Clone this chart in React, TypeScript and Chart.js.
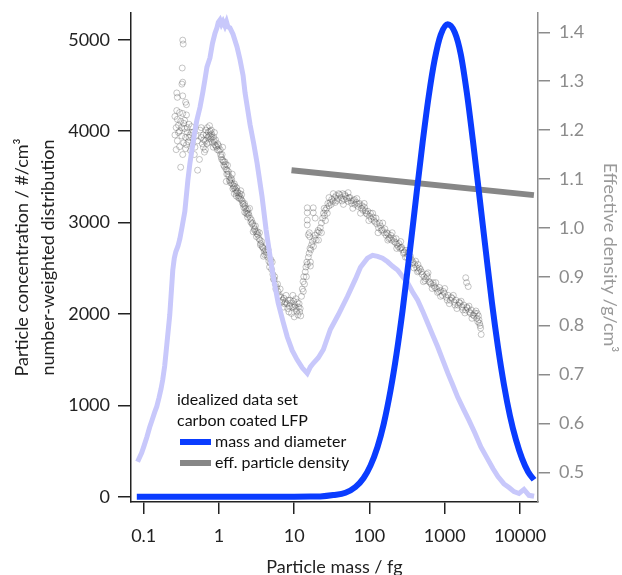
import { useEffect, useRef } from 'react';
import { Chart, registerables } from 'chart.js';

Chart.register(...registerables);

const FONT = 'Lato, "Open Sans", sans-serif';

// ---- axes ----
const xTickValues = [0.1, 1, 10, 100, 1000, 10000];
const xTickLabels = ['0.1', '1', '10', '100', '1000', '10000'];
const leftTickValues = [0, 1000, 2000, 3000, 4000, 5000];
const leftTickLabels = ['0', '1000', '2000', '3000', '4000', '5000'];
const rightTickValues = [0.5, 0.6, 0.7, 0.8, 0.9, 1.0, 1.1, 1.2, 1.3, 1.4];
const rightTickLabels = ['0.5', '0.6', '0.7', '0.8', '0.9', '1.0', '1.1', '1.2', '1.3', '1.4'];

const xTitle = 'Particle mass / fg';
const leftTitleLines = ['Particle concentration / #/cm³', 'number-weighted distribution'];
const rightTitle = 'Effective density /g/cm³';

const legendHeader = ['idealized data set', 'carbon coated LFP'];
const legendLabels = ['mass and diameter', 'eff. particle density'];

// ---- number-weighted distribution (light lavender) ----
const numberMass = [0.083, 0.088, 0.094, 0.1, 0.11, 0.12, 0.13, 0.14, 0.149, 0.16, 0.17, 0.179, 0.19, 0.2026, 0.222, 0.2435, 0.255, 0.267, 0.285, 0.302, 0.325, 0.352, 0.386, 0.41, 0.4365, 0.47, 0.509, 0.56, 0.612, 0.65, 0.692, 0.759, 0.82, 0.885, 0.94, 0.98, 1.031, 1.08, 1.13, 1.2, 1.26, 1.318, 1.4, 1.537, 1.738, 1.905, 2.09, 2.22, 2.59, 2.9, 3.21, 3.74, 4.23, 4.79, 5.41, 6.12, 7.13, 8.07, 9.4, 10.9, 12.8, 14.9, 16.4, 17.9, 20.9, 24.4, 30.2, 38.5, 50.9, 65, 75.9, 94, 110, 128, 149, 174, 203, 236, 275, 321, 374, 437, 509, 593, 691, 805, 937, 1096, 1275, 1486, 1792, 2085, 2505, 3020, 3640, 4385, 5093, 6130, 7140, 8318, 9690, 11290, 13160, 15380];
const numberConc = [383, 430, 480, 545, 650, 760, 845, 925, 985, 1085, 1180, 1280, 1430, 1660, 1990, 2480, 2610, 2680, 2740, 2820, 2960, 3120, 3460, 3640, 3790, 3960, 4120, 4260, 4430, 4560, 4700, 4800, 4960, 5070, 5130, 5190, 5215, 5170, 5200, 5150, 5195, 5140, 5130, 5060, 4920, 4780, 4610, 4420, 4070, 3860, 3650, 3280, 2920, 2620, 2350, 2120, 1910, 1750, 1600, 1500, 1410, 1350, 1420, 1460, 1520, 1610, 1830, 1990, 2190, 2380, 2510, 2610, 2640, 2630, 2610, 2570, 2520, 2480, 2410, 2340, 2240, 2150, 2030, 1900, 1770, 1640, 1500, 1355, 1225, 1090, 950, 840, 700, 545, 425, 305, 220, 140, 100, 55, 35, 80, 15, 5];

// ---- mass and diameter (blue) ----
const idealMass = [0.081, 1, 10, 16.35, 22.2, 33.1, 47.9, 65.1, 83.2, 103.1, 127.8, 153.7, 190.5, 229.1, 275.4, 341.5, 423.4, 509, 611.9, 735.6, 884.5, 1096, 1359, 1634, 1965, 2363, 2840, 3522, 4234, 5090, 6119, 7356, 8845, 10630, 12790, 15370];
const idealConc = [0, 0, 0, 1, 3, 18, 43, 106, 202, 340, 544, 787, 1164, 1566, 2040, 2664, 3326, 3881, 4380, 4784, 5055, 5170, 5080, 4840, 4420, 3900, 3340, 2680, 2125, 1640, 1225, 885, 621, 419, 273, 185];

// ---- eff. particle density (grey line, right axis) ----
const densityLineMass = [9.2, 15300];
const densityLineValue = [1.118, 1.067];

// ---- measured effective density (open circles, right axis) [mass fg, density g/cm3] ----
const measuredDensity: [number, number][] = [
  [0.33, 1.384], [0.335, 1.376], [0.325, 1.327], [0.33, 1.298], [0.322, 1.294],
  [0.275, 1.276], [0.28, 1.267], [0.33, 1.27], [0.36, 1.257], [0.37, 1.252],
  [0.275, 1.24], [0.3, 1.236], [0.33, 1.234], [0.37, 1.231], [0.26, 1.228],
  [0.28, 1.222], [0.31, 1.218], [0.34, 1.214], [0.29, 1.21], [0.4, 1.212],
  [0.27, 1.205], [0.35, 1.203], [0.43, 1.207], [0.3, 1.198], [0.38, 1.196],
  [0.26, 1.19], [0.32, 1.188], [0.36, 1.185], [0.41, 1.19], [0.45, 1.182],
  [0.28, 1.178], [0.34, 1.174], [0.39, 1.176], [0.44, 1.17], [0.3, 1.166],
  [0.36, 1.162], [0.48, 1.165], [0.27, 1.16], [0.42, 1.158], [0.31, 1.124],
  [0.33, 1.15], [0.38, 1.205], [0.46, 1.196], [0.5, 1.188], [0.52, 1.178],
  [0.47, 1.15], [0.52, 1.118], [0.55, 1.14], [0.29, 1.195], [0.35, 1.22],
  [0.32, 1.205], [0.4, 1.185], [0.37, 1.17], [0.43, 1.195],
  [0.56, 1.2], [0.58, 1.185], [0.6, 1.172], [0.62, 1.165], [0.64, 1.155], [0.66, 1.178], [0.68, 1.19],
  [0.7, 1.205], [0.72, 1.196], [0.74, 1.188], [0.76, 1.198], [0.78, 1.182], [0.8, 1.192], [0.82, 1.175],
  [0.85, 1.186], [0.88, 1.17], [0.9, 1.18], [0.93, 1.165], [0.96, 1.172], [1.0, 1.158], [0.69, 1.172],
  [0.75, 1.209], [0.87, 1.195], [0.62, 1.19], [0.66, 1.16], [0.71, 1.185], [0.79, 1.2], [0.84, 1.165],
  [1.04, 1.16], [1.07, 1.145], [1.1, 1.15], [1.13, 1.138], [1.16, 1.128], [1.2, 1.135], [1.24, 1.12],
  [1.28, 1.118], [1.32, 1.11], [1.36, 1.105], [1.4, 1.098], [1.45, 1.102], [1.5, 1.09], [1.55, 1.086],
  [1.6, 1.09], [1.66, 1.078], [1.72, 1.082], [1.78, 1.072], [1.84, 1.066], [1.9, 1.07], [1.97, 1.058],
  [2.04, 1.055], [2.1, 1.048], [2.18, 1.05], [2.26, 1.04], [2.34, 1.035], [2.42, 1.038], [2.5, 1.026],
  [2.6, 1.02], [2.7, 1.016], [2.8, 1.01], [2.9, 1.004], [3.0, 0.998], [3.1, 0.992], [3.2, 0.988],
  [1.12, 1.165], [1.3, 1.128], [1.5, 1.11], [1.7, 1.065], [1.95, 1.076], [2.2, 1.032], [2.55, 1.04],
  [2.85, 0.992], [1.25, 1.095], [1.6, 1.07], [2.0, 1.068], [2.4, 1.022],
  [3.3, 0.985], [3.4, 0.978], [3.5, 0.975], [3.6, 0.968], [3.7, 0.972], [3.8, 0.96], [3.9, 0.958],
  [4.0, 0.952], [4.15, 0.955], [4.3, 0.945], [4.45, 0.94], [4.6, 0.932], [4.8, 0.928], [5.0, 0.915],
  [5.2, 0.905], [5.4, 0.895], [5.6, 0.885], [5.85, 0.878], [6.1, 0.87], [6.4, 0.862], [6.7, 0.858],
  [7.0, 0.852], [7.3, 0.856], [7.6, 0.848], [8.0, 0.845], [8.3, 0.852], [8.7, 0.84], [9.0, 0.846],
  [9.4, 0.838], [9.8, 0.85], [10.2, 0.842], [10.6, 0.835], [11, 0.848], [11.4, 0.838], [11.8, 0.828],
  [12.2, 0.82], [3.45, 0.99], [3.9, 0.942], [4.5, 0.955], [5.1, 0.93], [5.5, 0.9], [6.0, 0.885],
  [6.5, 0.875], [7.2, 0.838], [7.8, 0.862], [8.5, 0.828], [9.2, 0.825], [10.0, 0.818], [10.5, 0.855],
  [11.2, 0.822], [9.6, 0.862], [8.2, 0.835],
  [12.5, 0.86], [12.8, 0.875], [13.1, 0.89], [13.4, 0.9], [13.7, 0.885], [14.0, 0.91], [14.3, 0.92],
  [14.7, 0.93], [15.0, 0.925], [15.4, 0.94], [15.8, 0.948], [16.2, 0.958], [16.6, 0.955], [15.4, 0.986],
  [15.9, 0.99], [16.1, 0.982], [16.4, 0.93], [16.4, 0.922], [17.0, 0.965], [17.5, 0.972], [18.0, 0.962],
  [18.5, 0.978], [19.0, 0.985], [19.6, 0.975], [20.2, 0.99], [20.8, 0.995], [21.5, 0.992], [22.2, 1.0],
  [23, 1.01], [23.8, 1.02], [24.5, 1.03], [25.3, 1.025], [26, 1.036], [27, 1.04], [28, 1.05],
  [29, 1.045], [30, 1.052], [31.5, 1.058], [33, 1.055], [34.5, 1.062], [36, 1.066], [38, 1.06], [40, 1.068],
  [14.9, 1.041], [14.9, 1.031], [17.9, 1.041], [17.9, 1.031], [14.9, 1.016], [19, 1.02], [14.9, 1.006],
  [13.2, 0.87], [14.5, 0.9], [21, 0.975], [23, 0.99], [26, 1.015], [29, 1.062], [33, 1.07],
  [42, 1.062], [44, 1.07], [46, 1.058], [48, 1.065], [50, 1.06], [52, 1.054], [55, 1.062], [58, 1.05],
  [61, 1.056], [64, 1.048], [67, 1.052], [70, 1.044], [74, 1.05], [78, 1.04], [82, 1.036], [86, 1.042],
  [90, 1.03], [95, 1.034], [100, 1.024], [106, 1.018], [112, 1.022], [118, 1.012], [125, 1.008],
  [132, 1.0], [140, 1.004], [148, 0.996], [157, 0.99], [166, 0.985], [176, 0.988], [186, 0.98],
  [197, 0.975], [208, 0.978], [220, 0.97], [233, 0.966], [246, 0.968], [260, 0.96], [275, 0.955],
  [290, 0.95], [306, 0.954], [323, 0.945], [340, 0.94], [360, 0.935], [380, 0.93], [400, 0.925],
  [425, 0.918], [450, 0.912], [475, 0.915], [500, 0.905], [530, 0.9], [560, 0.896], [590, 0.9],
  [620, 0.89], [660, 0.885], [700, 0.888], [740, 0.878], [780, 0.875], [830, 0.87], [880, 0.872],
  [930, 0.862], [990, 0.866], [1050, 0.858], [1110, 0.862], [1180, 0.852], [1250, 0.856], [1330, 0.848],
  [1410, 0.852], [1500, 0.842], [1590, 0.846], [1690, 0.838], [1790, 0.842], [1900, 0.832], [2000, 0.836],
  [2120, 0.828], [2250, 0.832], [2380, 0.822], [2500, 0.826], [2650, 0.815], [2800, 0.82], [2900, 0.805],
  [3000, 0.795], [3050, 0.782],
  [45, 1.048], [52, 1.072], [60, 1.04], [68, 1.06], [76, 1.03], [85, 1.05], [98, 1.015], [110, 1.03],
  [130, 0.99], [150, 1.01], [175, 0.975], [200, 0.99], [230, 0.958], [260, 0.972], [300, 0.94],
  [340, 0.955], [390, 0.918], [440, 0.925], [520, 0.89], [600, 0.908], [680, 0.876], [760, 0.888],
  [880, 0.86], [1000, 0.876], [1150, 0.845], [1300, 0.862], [1450, 0.835], [1650, 0.85], [1850, 0.826],
  [2100, 0.84], [2300, 0.815], [2600, 0.83], [2750, 0.808], [1900, 0.898], [1950, 0.888], [2050, 0.88],
  [0.58, 1.205], [0.63, 1.18], [0.67, 1.2], [0.73, 1.175], [0.77, 1.19], [0.81, 1.185], [0.86, 1.178],
  [0.91, 1.168], [0.95, 1.16], [0.99, 1.168], [1.05, 1.15], [1.09, 1.14], [1.15, 1.135], [1.19, 1.125],
  [1.23, 1.13], [1.27, 1.11], [1.34, 1.115], [1.38, 1.096], [1.43, 1.092], [1.48, 1.098], [1.53, 1.08],
  [1.58, 1.082], [1.63, 1.085], [1.69, 1.072], [1.75, 1.075], [1.81, 1.062], [1.87, 1.06], [1.93, 1.062],
  [2.07, 1.05], [2.14, 1.042], [2.22, 1.045], [2.3, 1.03], [2.38, 1.028], [2.46, 1.03], [2.65, 1.012],
  [2.75, 1.008], [2.95, 0.996], [3.05, 1.004], [3.15, 0.982], [3.25, 0.992], [3.55, 0.965], [3.75, 0.962],
  [4.05, 0.945], [4.25, 0.95], [4.7, 0.92], [4.9, 0.935], [5.3, 0.895], [5.7, 0.875], [6.2, 0.86],
  [6.8, 0.848], [7.4, 0.845], [8.8, 0.852], [9.9, 0.838], [10.8, 0.83], [11.6, 0.845], [12.0, 0.835],
  [25, 1.04], [27.5, 1.03], [31, 1.048], [35, 1.052], [37, 1.056], [39, 1.07], [43, 1.055], [47, 1.068],
  [53, 1.062], [57, 1.055], [63, 1.058], [72, 1.048], [80, 1.045], [88, 1.035], [93, 1.028], [103, 1.03],
  [115, 1.015], [122, 1.02], [136, 1.01], [144, 0.995], [160, 0.998], [170, 0.99], [181, 0.978],
  [192, 0.985], [214, 0.972], [226, 0.978], [240, 0.962], [253, 0.958], [268, 0.96], [283, 0.948],
  [315, 0.94], [332, 0.95], [350, 0.942], [370, 0.928], [410, 0.932], [435, 0.91], [460, 0.918],
  [490, 0.91], [545, 0.892], [575, 0.905], [640, 0.888], [720, 0.882], [800, 0.868], [850, 0.878],
  [960, 0.87], [1080, 0.852], [1220, 0.858], [1370, 0.842], [1550, 0.848], [1740, 0.832], [1960, 0.838],
  [2200, 0.825], [2450, 0.82], [2700, 0.825], [2850, 0.812], [2950, 0.8],
];

const BLUE = '#0a3cff';
const LAVENDER = '#c8c8fb';
const GREY_LINE = '#878787';
const AXIS_DARK = '#222222';
const AXIS_GREY = '#8c8c8c';

const overlayPlugin = {
  id: 'overlayText',
  afterDraw(chart: any) {
    const { ctx, chartArea } = chart;
    ctx.save();
    // left axis title (two lines, rotated, centred on the axis)
    ctx.fillStyle = AXIS_DARK;
    ctx.font = `18px ${FONT}`;
    ctx.textAlign = 'center';
    ctx.textBaseline = 'middle';
    const titleCenterY = (chartArea.top + chartArea.bottom) / 2;
    const titleXs = [22, 48];
    leftTitleLines.forEach((t, i) => {
      ctx.save();
      ctx.translate(titleXs[i], titleCenterY);
      ctx.rotate(-Math.PI / 2);
      ctx.fillText(t, 0, 0);
      ctx.restore();
    });
    // legend
    const lx = chartArea.left + 46;
    const ly = chartArea.top + 387;
    const gap = 21;
    ctx.font = `16px ${FONT}`;
    ctx.textAlign = 'left';
    ctx.fillStyle = '#111';
    legendHeader.forEach((t, i) => ctx.fillText(t, lx, ly + i * gap));
    const swatchColors = [BLUE, GREY_LINE];
    legendLabels.forEach((t, i) => {
      const y = ly + (i + 2) * gap;
      ctx.strokeStyle = swatchColors[i];
      ctx.lineWidth = 6;
      ctx.beginPath();
      ctx.moveTo(lx + 3, y);
      ctx.lineTo(lx + 34, y);
      ctx.stroke();
      ctx.fillStyle = '#111';
      ctx.fillText(t, lx + 38, y);
    });
    ctx.restore();
  },
};

export default function App() {
  const canvasRef = useRef<HTMLCanvasElement | null>(null);

  useEffect(() => {
    const canvas = canvasRef.current;
    if (!canvas) return;
    const chart = new Chart(canvas, {
      type: 'line',
      data: {
        datasets: [
          {
            type: 'scatter',
            label: 'measured density',
            data: measuredDensity.map(([x, y]) => ({ x, y })),
            yAxisID: 'y1',
            showLine: false,
            pointRadius: 3,
            pointBorderWidth: 0.9,
            pointBorderColor: 'rgba(70,70,70,0.34)',
            pointBackgroundColor: 'rgba(0,0,0,0)',
            order: 3,
          } as any,
          {
            label: 'number-weighted distribution',
            data: numberMass.map((x, i) => ({ x, y: numberConc[i] })),
            yAxisID: 'y',
            borderColor: LAVENDER,
            borderWidth: 5,
            pointRadius: 0,
            tension: 0,
            order: 2,
          },
          {
            label: legendLabels[1],
            data: densityLineMass.map((x, i) => ({ x, y: densityLineValue[i] })),
            yAxisID: 'y1',
            borderColor: GREY_LINE,
            borderWidth: 6,
            pointRadius: 0,
            order: 1,
          },
          {
            label: legendLabels[0],
            data: idealMass.map((x, i) => ({ x, y: idealConc[i] })),
            yAxisID: 'y',
            borderColor: BLUE,
            borderWidth: 6,
            pointRadius: 0,
            cubicInterpolationMode: 'monotone',
            order: 0,
          },
        ],
      },
      options: {
        animation: false,
        responsive: false,
        devicePixelRatio: 1,
        events: [],
        layout: { padding: { top: 13, left: 0, right: 0, bottom: 0 } },
        plugins: {
          legend: { display: false },
          tooltip: { enabled: false },
        },
        scales: {
          x: {
            type: 'logarithmic',
            position: 'bottom',
            min: 0.0678,
            max: 17340,
            afterBuildTicks: (s: any) => {
              s.ticks = xTickValues.map((v) => ({ value: v, major: true }));
            },
            afterFit: (s: any) => {
              s.height = 73;
              s.paddingLeft = 0;
              s.paddingRight = 0;
            },
            ticks: {
              autoSkip: false,
              maxRotation: 0,
              padding: 11,
              color: AXIS_DARK,
              font: { family: FONT, size: 18 },
              callback: (_v: any, i: number) => xTickLabels[i],
            },
            grid: { drawOnChartArea: false, drawTicks: true, tickLength: 12, color: AXIS_DARK, lineWidth: 1.5 },
            border: { display: true, color: AXIS_DARK, width: 1.5 },
            title: {
              display: true,
              text: xTitle,
              color: AXIS_DARK,
              font: { family: FONT, size: 18 },
              padding: { top: 0, bottom: -3 },
            },
          },
          y: {
            type: 'linear',
            position: 'left',
            min: -58,
            max: 5292,
            afterBuildTicks: (s: any) => {
              s.ticks = leftTickValues.map((v) => ({ value: v }));
            },
            afterFit: (s: any) => {
              s.width = 131;
              s.paddingTop = 0;
              s.paddingBottom = 0;
            },
            ticks: {
              padding: 8,
              color: AXIS_DARK,
              font: { family: FONT, size: 18 },
              callback: (_v: any, i: number) => leftTickLabels[i],
            },
            grid: { drawOnChartArea: false, drawTicks: true, tickLength: 13, color: AXIS_DARK, lineWidth: 1.5 },
            border: { display: true, color: AXIS_DARK, width: 1.5 },
          },
          y1: {
            type: 'linear',
            position: 'right',
            min: 0.4393,
            max: 1.4395,
            afterBuildTicks: (s: any) => {
              s.ticks = rightTickValues.map((v) => ({ value: v }));
            },
            afterFit: (s: any) => {
              s.width = 84;
              s.paddingTop = 0;
              s.paddingBottom = 0;
            },
            ticks: {
              padding: 9,
              color: AXIS_GREY,
              font: { family: FONT, size: 18 },
              callback: (_v: any, i: number) => rightTickLabels[i],
            },
            grid: { drawOnChartArea: false, drawTicks: true, tickLength: 12, color: AXIS_GREY, lineWidth: 1.5 },
            border: { display: true, color: AXIS_GREY, width: 1.5 },
            title: {
              display: true,
              text: rightTitle,
              color: '#9a9a9a',
              font: { family: FONT, size: 18 },
              padding: { top: 1, bottom: 0 },
            },
          },
        },
      } as any,
      plugins: [overlayPlugin],
    });
    return () => chart.destroy();
  }, []);

  return (
    <div style={{ position: 'fixed', left: 0, top: 0, width: 622, height: 575, background: '#fff' }}>
      <canvas ref={canvasRef} width={622} height={575} style={{ display: 'block' }} />
    </div>
  );
}
